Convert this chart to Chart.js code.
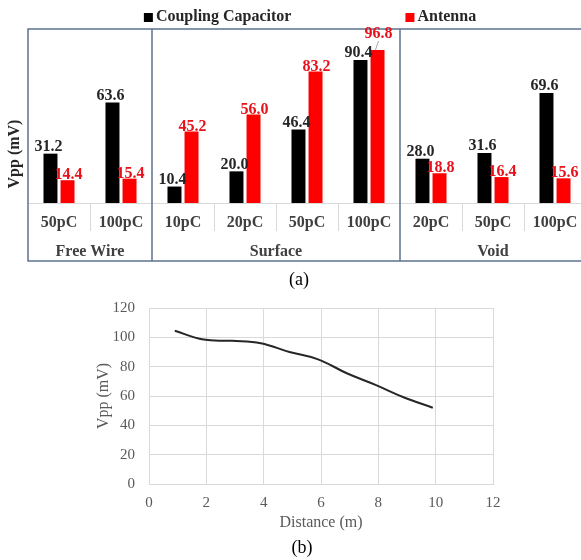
<!DOCTYPE html>
<html>
<head>
<meta charset="utf-8">
<script src="https://cdn.jsdelivr.net/npm/chart.js@4.4.0/dist/chart.umd.min.js"></script>
<style>
    html, body { margin: 0; padding: 0; background: #fff; overflow: hidden; width: 581px; height: 560px; }
    #wrapA { position: absolute; left: 0; top: 0; width: 600px; height: 270px; }
    #wrapB { position: absolute; left: 0; top: 285px; width: 581px; height: 275px; }
    .cap { position: absolute; width: 40px; text-align: center; font-family: 'Liberation Serif', 'Times New Roman', serif; font-size: 18px; line-height: 20px; color: #000; }
</style>
</head>
<body>
<div id="wrapA"><canvas id="barChart"></canvas></div>
<div class="cap" style="left:279px; top:269px">(a)</div>
<div id="wrapB"><canvas id="lineChart"></canvas></div>
<div class="cap" style="left:282px; top:537px">(b)</div>

<script>
// (a) peak voltages per defect type and charge
const categories = ['50pC', '100pC', '10pC', '20pC', '50pC', '100pC', '20pC', '50pC', '100pC'];
const groups = ['Free Wire', 'Surface', 'Void'];
const groupSizes = [2, 4, 3];
const couplingValues = [31.2, 63.6, 10.4, 20.0, 46.4, 90.4, 28.0, 31.6, 69.6];
const antennaValues = [14.4, 15.4, 45.2, 56.0, 83.2, 96.8, 18.8, 16.4, 15.6];

// (b) Vpp vs distance
const distances = [0.9, 1.9, 2.9, 3.9, 4.9, 5.9, 6.9, 7.9, 8.9, 9.9];
const vppValues = [104.5, 98.5, 97.6, 96.0, 90.0, 85.0, 75.5, 67.6, 59.0, 52.0];

const SERIF = "'Liberation Serif', 'Times New Roman', serif";
const BOX = '#5E7190';
const SEP = '#D9D9D9';

const panelPlugin = {
    id: 'panel',
    afterDatasetsDraw(chart) {
        const { ctx, chartArea: a, scales: { x } } = chart;
        const catW = (a.right - a.left) / categories.length;
        const boxBottom = a.bottom + 58;

        const bounds = [];
        let s = 0;
        groupSizes.forEach(n => { bounds.push(s); s += n; });

        ctx.save();

        // baseline + separators under the bars
        ctx.strokeStyle = SEP;
        ctx.lineWidth = 1;
        ctx.beginPath();
        ctx.moveTo(a.left, Math.round(a.bottom) + 0.5);
        ctx.lineTo(a.right, Math.round(a.bottom) + 0.5);
        for (let i = 1; i < categories.length; i++) {
            if (bounds.includes(i)) continue;
            const px = Math.round(a.left + i * catW) + 0.5;
            ctx.moveTo(px, a.bottom);
            ctx.lineTo(px, a.bottom + 28);
        }
        ctx.stroke();

        // outer box and group dividers
        ctx.strokeStyle = BOX;
        ctx.lineWidth = 1.5;
        ctx.strokeRect(a.left, a.top, a.right - a.left, boxBottom - a.top);
        ctx.beginPath();
        bounds.slice(1).forEach(i => {
            const px = a.left + i * catW;
            ctx.moveTo(px, a.top);
            ctx.lineTo(px, boxBottom);
        });
        ctx.stroke();

        // category + group labels
        ctx.font = 'bold 16px ' + SERIF;
        ctx.fillStyle = '#404040';
        ctx.textAlign = 'center';
        ctx.textBaseline = 'middle';
        categories.forEach((c, i) => ctx.fillText(c, x.getPixelForValue(i), a.bottom + 20));
        groups.forEach((g, k) => {
            const first = bounds[k], last = first + groupSizes[k] - 1;
            const cx = (x.getPixelForValue(first) + x.getPixelForValue(last)) / 2;
            ctx.fillText(g, cx, a.bottom + 49);
        });

        // data labels
        const m0 = chart.getDatasetMeta(0), m1 = chart.getDatasetMeta(1);
        m0.data.forEach((bar, i) => {
            const red = m1.data[i];
            const by = bar.y - 7;
            let ry = red.y - 5;
            let lifted = false;
            if (Math.abs(ry - by) < 14) { ry = by - 19; lifted = true; }
            ctx.fillStyle = '#262626';
            ctx.fillText(couplingValues[i].toFixed(1), bar.x - 2, by);
            ctx.fillStyle = '#E8101A';
            ctx.fillText(antennaValues[i].toFixed(1), red.x + 1, ry);
            if (lifted) {
                ctx.strokeStyle = '#A6A6A6';
                ctx.lineWidth = 1;
                ctx.beginPath();
                ctx.moveTo(red.x + 1, ry + 7);
                ctx.lineTo(red.x - 2, red.y);
                ctx.stroke();
            }
        });

        // legend
        const items = chart.data.datasets.map(d => ({ text: d.label, color: d.backgroundColor }));
        const widths = items.map(it => 12 + ctx.measureText(it.text).width);
        const gap = 114;
        const total = widths.reduce((p, w) => p + w, 0) + gap;
        let lx = (a.left + a.right) / 2 + 3 - total / 2;
        const ly = a.top - 12;
        ctx.textAlign = 'left';
        items.forEach((it, k) => {
            ctx.fillStyle = it.color;
            ctx.fillRect(lx, ly - 4, 9, 9);
            ctx.fillStyle = '#262626';
            ctx.fillText(it.text, lx + 12, ly);
            lx += widths[k] + gap;
        });

        // y axis title
        ctx.translate(a.left - 13, (a.top + boxBottom) / 2 + 9);
        ctx.rotate(-Math.PI / 2);
        ctx.textAlign = 'center';
        ctx.fillStyle = '#262626';
        ctx.fillText('Vpp (mV)', 0, 0);

        ctx.restore();
    }
};

new Chart(document.getElementById('barChart'), {
    type: 'bar',
    data: {
        labels: categories,
        datasets: [
            { label: 'Coupling Capacitor', data: couplingValues, backgroundColor: '#000000', categoryPercentage: 0.55, barPercentage: 0.82 },
            { label: 'Antenna', data: antennaValues, backgroundColor: '#FF0000', categoryPercentage: 0.55, barPercentage: 0.82 }
        ]
    },
    options: {
        animation: false,
        responsive: true,
        maintainAspectRatio: false,
        layout: { padding: { left: 28, top: 29, right: 14, bottom: 67 } },
        plugins: { legend: { display: false }, tooltip: { enabled: false } },
        scales: {
            x: { display: false },
            y: { display: false, min: 0, max: 110 }
        }
    },
    plugins: [panelPlugin]
});

const tickFont = { family: SERIF, size: 15 };

new Chart(document.getElementById('lineChart'), {
    type: 'line',
    data: {
        datasets: [{
            data: distances.map((d, i) => ({ x: d, y: vppValues[i] })),
            borderColor: '#262626',
            borderWidth: 2,
            pointRadius: 0,
            tension: 0.4,
            fill: false
        }]
    },
    options: {
        animation: false,
        responsive: true,
        maintainAspectRatio: false,
        layout: { padding: { left: 0, top: 13, right: 88, bottom: 0 } },
        plugins: { legend: { display: false }, tooltip: { enabled: false } },
        scales: {
            x: {
                type: 'linear', min: 0, max: 12,
                ticks: { stepSize: 2, padding: 10, color: '#595959', font: tickFont },
                grid: { color: SEP, drawTicks: false },
                border: { color: SEP },
                title: { display: true, text: 'Distance (m)', color: '#595959', font: { family: SERIF, size: 16 }, padding: { top: 0, bottom: 28 } },
                afterFit: sc => { sc.height = 76; }
            },
            y: {
                min: 0, max: 120,
                ticks: { stepSize: 20, padding: 14, color: '#595959', font: tickFont },
                grid: { color: SEP, drawTicks: false },
                border: { color: SEP },
                title: { display: true, text: 'Vpp (mV)', color: '#595959', font: { family: SERIF, size: 16 }, padding: { top: 94, bottom: 0 } },
                afterFit: sc => { sc.width = 149; }
            }
        }
    }
});
</script>
</body>
</html>
